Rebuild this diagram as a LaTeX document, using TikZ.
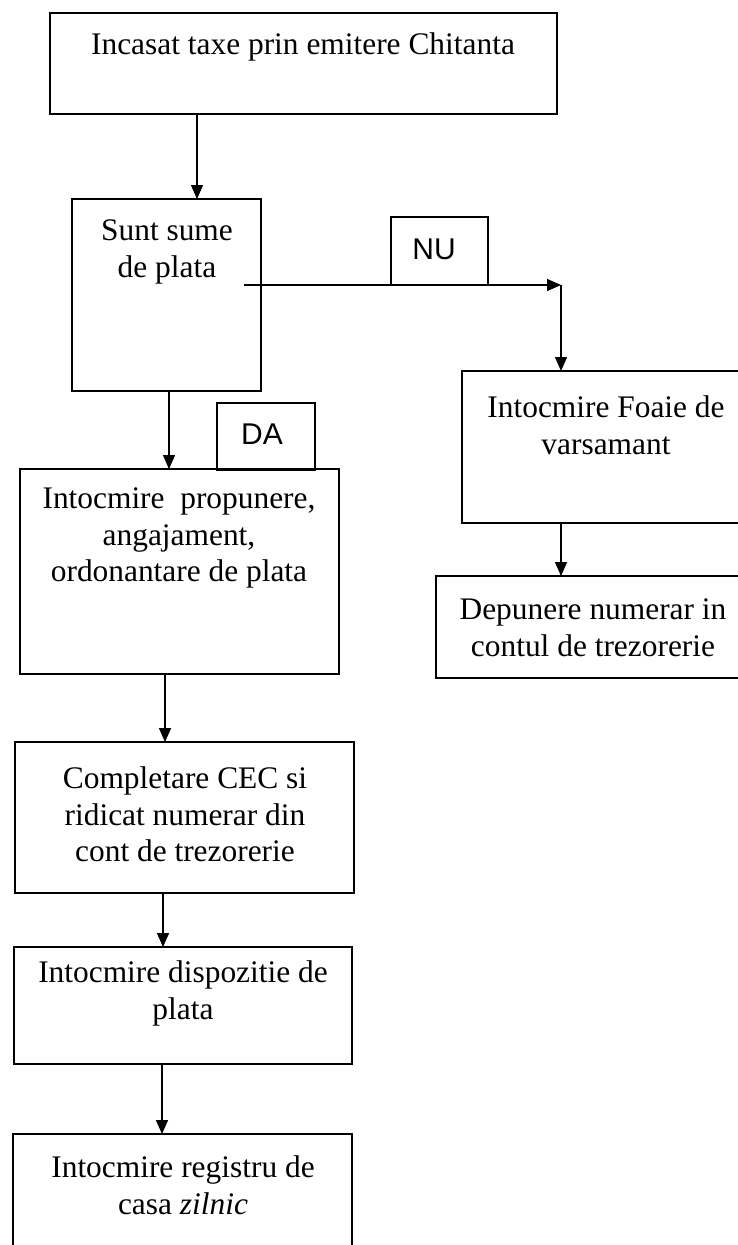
\documentclass[tikz,border=0pt]{standalone}
\usepackage{fontspec}
\setmainfont{Liberation Serif}
\newfontfamily\arialfont{Liberation Sans}
\usetikzlibrary{arrows.meta,fit}
\begin{document}
\begin{tikzpicture}[x=1pt,y=-1pt,
  box/.style={draw, line width=1.4pt, inner sep=0pt, outer sep=0pt},
  txt/.style={font=\fontsize{31.4}{36.5}\selectfont, align=center, inner sep=0pt, anchor=north},
  tag/.style={font=\arialfont\fontsize{30}{34}\selectfont, inner sep=0pt},
  arr/.style={line width=1.4pt, -{Triangle[length=14pt,width=12pt]}}]
\useasboundingbox (0,0) rectangle (738,1245);
\clip (0,0) rectangle (738,1245);
% boxes
\node[box, fit={(50,13) (557,114)}] (b1) {};
\node[box, fit={(72,199) (261,391)}] (b2) {};
\node[box, fit={(391,217) (488,285)}] (nu) {};
\node[box, fit={(217,403) (315,470)}] (da) {};
\node[box, fit={(20,469) (339,674)}] (b3) {};
\node[box, fit={(462,371) (752,523)}] (b4) {};
\node[box, fit={(436,576) (752,678)}] (b5) {};
\node[box, fit={(15,742) (354,893)}] (b6) {};
\node[box, fit={(14,947) (352,1064)}] (b7) {};
\node[box, fit={(13,1134) (352,1262)}] (b8) {};
% texts
\node[txt] (t1) at (303,29) {\strut Incasat taxe prin emitere Chitanta};
\node[txt] (t2) at (167,215) {\strut Sunt sume\\de plata};
\node[txt] (t3) at (179,483) {\strut Intocmire\ \ propunere,\\angajament,\\ordonantare de plata};
\node[txt] (t4) at (606,392) {\strut Intocmire Foaie de\\varsamant};
\node[txt] (t5) at (593,594) {\strut Depunere numerar in\\contul de trezorerie};
\node[txt] (t6) at (185,763) {\strut Completare CEC si\\ridicat numerar din\\cont de trezorerie};
\node[txt] (t7) at (183,957) {\strut Intocmire dispozitie de\\plata};
\node[txt] (t8) at (183,1152) {\strut Intocmire registru de\\casa \textit{zilnic}};
\node[tag] (tnu) at (434,249) {NU};
\node[tag] (tda) at (262,434) {DA};
% connectors
\coordinate (c1) at (197,0);
\draw[arr] (b1.south -| c1) -- (b2.north -| c1);
\coordinate (s2) at (244,285);
\coordinate (k2) at (561,285);
\draw[arr] (s2) -- (k2);
\draw[arr] (k2) -- (b4.north -| k2);
\coordinate (c3) at (169,0);
\draw[arr] (b2.south -| c3) -- (b3.north -| c3);
\coordinate (c4) at (561,0);
\draw[arr] (b4.south -| c4) -- (b5.north -| c4);
\coordinate (c5) at (165,0);
\draw[arr] (b3.south -| c5) -- (b6.north -| c5);
\coordinate (c6) at (163,0);
\draw[arr] (b6.south -| c6) -- (b7.north -| c6);
\coordinate (c7) at (162,0);
\draw[arr] (b7.south -| c7) -- (b8.north -| c7);
\end{tikzpicture}
\end{document}
